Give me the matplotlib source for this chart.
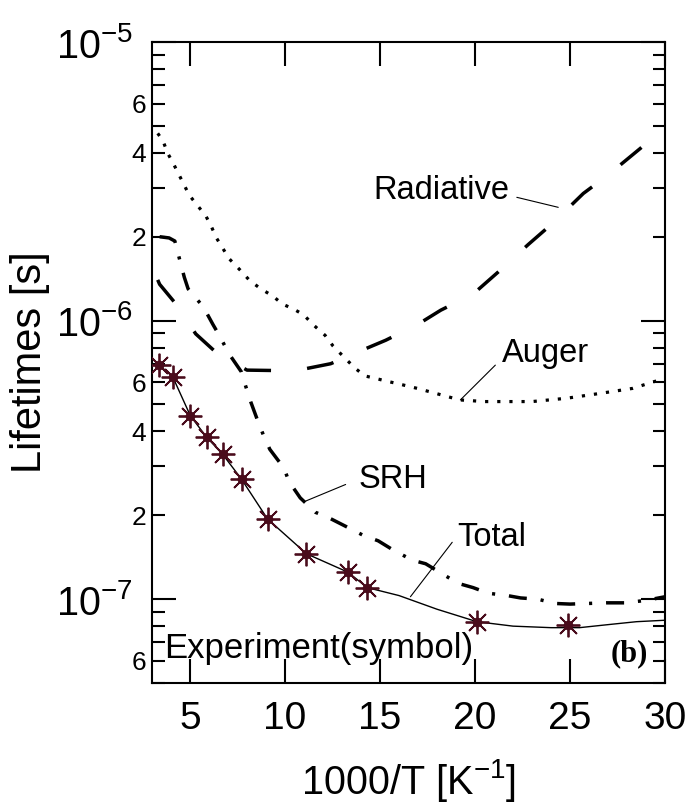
import math
import matplotlib
matplotlib.use("Agg")
import matplotlib.pyplot as plt
from matplotlib.ticker import FixedLocator, FuncFormatter, NullLocator

plt.rcParams['font.family'] = ['Liberation Sans', 'DejaVu Sans']
plt.rcParams['mathtext.fontset'] = 'custom'
plt.rcParams['mathtext.rm'] = 'Liberation Sans'
plt.rcParams['mathtext.it'] = 'Liberation Sans:italic'

# Experiment (symbols): 1000/T and lifetime [s]
exp_x = [3.39, 4.09, 5.02, 5.88, 6.72, 7.72, 9.08, 11.13, 13.31, 14.33, 20.1, 24.9]
exp_y = [6.91e-7, 6.28e-7, 4.55e-7, 3.81e-7, 3.31e-7, 2.69e-7, 1.94e-7,
         1.455e-7, 1.25e-7, 1.10e-7, 8.3e-8, 8.1e-8]

# Total (solid line)
total_x = [3.39, 4.09, 5.02, 5.88, 6.72, 7.72, 9.08, 11.13, 13.31, 14.33, 16.0,
           18.0, 20.1, 22.0, 24.0, 25.5, 27.0, 28.5, 30.0]
total_y = [6.91e-7, 6.28e-7, 4.55e-7, 3.81e-7, 3.31e-7, 2.69e-7, 1.94e-7, 1.455e-7,
           1.25e-7, 1.10e-7, 1.03e-7, 9.2e-8, 8.3e-8, 8.0e-8, 7.9e-8, 7.9e-8,
           8.1e-8, 8.3e-8, 8.4e-8]

# SRH (dash-dot)
srh_x = [3.4, 3.9, 4.2, 4.45, 4.7, 4.9, 5.7, 6.2, 6.6, 7.05, 7.7, 7.9, 8.2, 8.6,
         8.85, 9.2, 9.95, 10.2, 10.8, 11.6, 12.3, 13.3, 14.15, 14.9, 15.7, 16.7,
         17.4, 18.3, 19.1, 19.9, 20.7, 21.7, 22.4, 23.3, 24.2, 25.0, 26.9, 27.9,
         29.0, 30.0]
srh_y = [2.0e-6, 1.98e-6, 1.93e-6, 1.66e-6, 1.43e-6, 1.30e-6, 1.12e-6, 9.7e-7,
         8.7e-7, 7.6e-7, 6.55e-7, 5.9e-7, 5.1e-7, 4.3e-7, 3.9e-7, 3.45e-7, 2.95e-7,
         2.65e-7, 2.31e-7, 2.05e-7, 1.96e-7, 1.81e-7, 1.69e-7, 1.62e-7, 1.50e-7,
         1.38e-7, 1.34e-7, 1.23e-7, 1.14e-7, 1.10e-7, 1.05e-7, 1.03e-7, 1.01e-7,
         1.0e-7, 9.65e-8, 9.6e-8, 9.7e-8, 9.7e-8, 9.9e-8, 1.02e-7]

# Radiative (dashed)
rad_x = [3.3, 3.4, 4.2, 5.3, 6.45, 8.0, 9.3, 11.0, 12.4, 14.0, 15.3, 17.0, 18.2,
         19.9, 21.2, 22.8, 24.1, 25.7, 27.0, 28.7, 29.8, 30.0]
rad_y = [1.4e-6, 1.35e-6, 1.16e-6, 8.96e-7, 7.6e-7, 6.64e-7, 6.62e-7, 6.7e-7,
         7.0e-7, 7.8e-7, 8.5e-7, 9.7e-7, 1.09e-6, 1.245e-6, 1.49e-6, 1.875e-6,
         2.24e-6, 2.86e-6, 3.33e-6, 4.15e-6, 4.82e-6, 5.0e-6]

# Auger (dotted)
aug_x = [3.3, 3.57, 3.83, 4.09, 4.96, 5.84, 6.13, 6.39, 6.7, 7.05, 7.63, 8.15,
         8.73, 9.34, 9.87, 10.45, 10.97, 11.53, 12.11, 12.53, 13.1, 13.67, 14.2,
         14.77, 15.3, 15.87, 16.96, 19.2, 20.5, 23.0, 24.8, 26.6, 28.3, 29.4, 30.0]
aug_y = [4.7e-6, 4.43e-6, 3.98e-6, 3.7e-6, 2.82e-6, 2.37e-6, 2.17e-6, 1.98e-6,
         1.83e-6, 1.67e-6, 1.52e-6, 1.39e-6, 1.30e-6, 1.227e-6, 1.146e-6, 1.10e-6,
         1.05e-6, 9.6e-7, 8.85e-7, 8.1e-7, 7.4e-7, 6.76e-7, 6.33e-7, 6.2e-7,
         6.07e-7, 5.95e-7, 5.71e-7, 5.19e-7, 5.12e-7, 5.12e-7, 5.26e-7, 5.48e-7,
         5.71e-7, 6.03e-7, 6.2e-7]

x_ticks = [5, 10, 15, 20, 25, 30]
y_major = [1e-7, 1e-6, 1e-5]
y_major_labels = [r'$\mathregular{10^{-7}}$', r'$\mathregular{10^{-6}}$', r'$\mathregular{10^{-5}}$']


fig = plt.figure(figsize=(6.91, 8.08), dpi=100)
ax = fig.add_axes([0.220, 0.1547, 0.7424, 0.7933])

ax.plot(rad_x, rad_y, color='black', lw=2.5, dashes=(7.8, 10.4), solid_capstyle='butt')
ax.plot(aug_x, aug_y, color='black', lw=2.3, dashes=(1.0, 2.8))
ax.plot(srh_x, srh_y, color='black', lw=2.5, dashes=(5.2, 4.0, 0.9, 4.0))
ax.plot(total_x, total_y, color='black', lw=1.0, zorder=3)

star_color = '#4a0c1c'
ax.plot(exp_x, exp_y, ls='none', marker=(8, 2, 0), ms=17, mew=1.3,
        color=star_color, zorder=4)
ax.plot(exp_x, exp_y, ls='none', marker='o', ms=6, color=star_color, zorder=5)

ax.set_yscale('log')
ax.set_xlim(3, 30)
ax.set_ylim(5e-8, 1e-5)

# ticks
ax.xaxis.set_major_locator(FixedLocator(x_ticks))
ax.xaxis.set_minor_locator(NullLocator())
ax.yaxis.set_major_locator(FixedLocator(y_major))
ax.yaxis.set_major_formatter(FuncFormatter(lambda v, p: y_major_labels[y_major.index(v)] if v in y_major else ''))
minor_vals = [m * 10.0 ** e for e in (-8, -7, -6) for m in range(2, 10)]
ax.yaxis.set_minor_locator(FixedLocator(minor_vals))


def minor_label(v, pos):
    m = round(v / 10.0 ** math.floor(math.log10(v) + 1e-9))
    return str(m) if m in (2, 4, 6) else ''


ax.yaxis.set_minor_formatter(FuncFormatter(minor_label))

ax.tick_params(which='both', direction='in', top=True, right=True, width=1.5)
ax.tick_params(axis='x', which='major', length=17, labelsize=28, pad=13)
ax.tick_params(axis='y', which='major', length=17, labelsize=28.5, pad=14)
ax.tick_params(axis='y', which='minor', length=9, labelsize=19, pad=4)
for s in ax.spines.values():
    s.set_linewidth(1.5)

ax.set_xlabel(r'1000/T [K$^{\mathregular{-1}}$]', fontsize=28.5, labelpad=14)
ax.set_ylabel('Lifetimes [s]', fontsize=30, labelpad=4)

# annotations
lead = dict(arrowstyle='-', color='black', lw=0.8, shrinkA=0, shrinkB=0)
fs = 23.5
ax.text(14.66, 2.94e-6, 'Radiative', fontsize=fs, ha='left', va='center')
ax.annotate('', xy=(24.38, 2.55e-6), xytext=(22.2, 2.77e-6), arrowprops=lead)
ax.text(21.42, 7.6e-7, 'Auger', fontsize=fs, ha='left', va='center')
ax.annotate('', xy=(19.23, 5.19e-7), xytext=(21.07, 6.92e-7), arrowprops=lead)
ax.text(13.88, 2.68e-7, 'SRH', fontsize=fs, ha='left', va='center')
ax.annotate('', xy=(11.09, 2.25e-7), xytext=(13.19, 2.58e-7), arrowprops=lead)
ax.text(19.06, 1.66e-7, 'Total', fontsize=fs, ha='left', va='center')
ax.annotate('', xy=(16.6, 1.02e-7), xytext=(18.8, 1.60e-7), arrowprops=lead)
ax.text(3.63, 6.17e-8, 'Experiment(symbol)', fontsize=25, ha='left', va='baseline')
ax.text(29.12, 6.0e-8, '(b)', fontsize=22, ha='right', va='baseline',
        family='Liberation Serif', fontweight='bold')

fig.savefig('out.png', dpi=100)
